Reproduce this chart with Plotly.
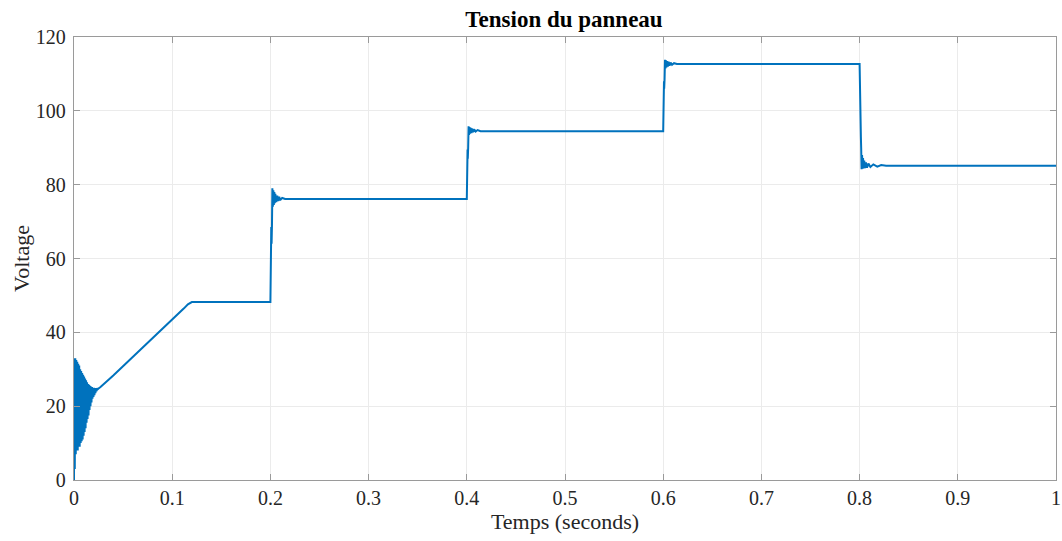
import numpy as np
import plotly.graph_objects as go

# --- Data (time in s, voltage in V) ---
t_start = [0, 0.0003, 0.0008, 0.0013, 0.0018, 0.0023, 0.0028, 0.0033, 0.0038, 0.0043,
           0.0048, 0.0053, 0.0058, 0.0063, 0.0068, 0.0073, 0.0078, 0.0083, 0.0088, 0.0093,
           0.0098, 0.0103, 0.0108, 0.0113, 0.0118, 0.0123, 0.0128, 0.0133, 0.0138, 0.0143,
           0.0148, 0.0153, 0.0158, 0.0163, 0.0168, 0.0173, 0.0178, 0.0183, 0.0188, 0.0193,
           0.0198, 0.0203, 0.0208, 0.0213, 0.0218, 0.0223, 0.0228, 0.0233, 0.0238, 0.025, 0.027]
v_start = [0, 33, 3, 33, 7, 32.5, 8, 32, 8, 31.5,
           9, 31, 9, 30, 10, 29.5, 10.5, 29, 11, 28.5,
           12, 28, 13, 27.5, 14, 27, 15.5, 26.5, 16.5, 26,
           17.5, 25.8, 19, 25.5, 20, 25.3, 21, 25.2, 22, 25,
           22.5, 25, 23, 24.9, 23.5, 24.9, 24, 24.9, 24.5, 24.8, 25.2]

t_ramp = [0.04, 0.06, 0.08, 0.1, 0.112, 0.116, 0.12, 0.2]
v_ramp = [28.3, 33.3, 38.4, 43.5, 46.5, 47.6, 48.2, 48.2]

t_step1 = [0.2005, 0.2009, 0.2012, 0.2016, 0.202, 0.2025, 0.203, 0.2035, 0.204, 0.2045,
           0.205, 0.206, 0.207, 0.208, 0.209, 0.21, 0.212, 0.215, 0.4]
v_step1 = [63, 68.5, 64, 69, 79, 74, 78.5, 74.5, 78, 75,
           77.5, 75.3, 77, 75.6, 76.7, 75.8, 76.4, 76.1, 76.1]

t_step2 = [0.4004, 0.4008, 0.401, 0.4014, 0.4018, 0.4023, 0.4028, 0.4033, 0.404, 0.4047,
           0.4055, 0.4065, 0.4075, 0.409, 0.411, 0.414, 0.6]
v_step2 = [86, 89.5, 87, 90, 95.8, 93.5, 95.6, 93.8, 95.4, 94,
           95.2, 94.2, 95, 94.4, 94.8, 94.5, 94.5]

t_step3 = [0.6004, 0.6008, 0.601, 0.6014, 0.6018, 0.6023, 0.6028, 0.6033, 0.604, 0.6047,
           0.6055, 0.6065, 0.6075, 0.609, 0.611, 0.614, 0.8]
v_step3 = [105.5, 108, 106, 108.5, 113.8, 111.5, 113.7, 111.8, 113.5, 112,
           113.3, 112.2, 113.1, 112.5, 112.9, 112.7, 112.7]

t_step4 = [0.8004, 0.8008, 0.801, 0.8013, 0.8016, 0.802, 0.8025, 0.803, 0.8035, 0.804,
           0.8047, 0.8055, 0.8065, 0.8075, 0.809, 0.811, 0.814, 0.818, 0.822, 0.827, 1.0]
v_step4 = [98.5, 93.5, 97, 93, 90, 84.2, 88, 84.3, 87.2, 84.4,
           86.5, 84.5, 86, 84.6, 85.7, 84.8, 85.5, 84.9, 85.3, 85.1, 85.1]

x_ticks = [0, 0.1, 0.2, 0.3, 0.4, 0.5, 0.6, 0.7, 0.8, 0.9, 1]
y_ticks = [0, 20, 40, 60, 80, 100, 120]

t = t_start + t_ramp + t_step1 + t_step2 + t_step3 + t_step4
v = v_start + v_ramp + v_step1 + v_step2 + v_step3 + v_step4

FONT = "Liberation Serif"
AX = "#9a9a9a"

W, H = 1062, 541

fig = go.Figure()
fig.add_trace(go.Scatter(x=t, y=v, mode="lines",
                         line=dict(color="#0072BD", width=2),
                         showlegend=False, hoverinfo="skip"))

fig.update_layout(
    width=W, height=H,
    margin=dict(l=73.5, r=5.5, t=37, b=61, autoexpand=False),
    paper_bgcolor="white", plot_bgcolor="white",
    font=dict(family=FONT, color="#262626", size=20),
    title=dict(text="<b>Tension du panneau</b>", x=564 / W, xanchor="center",
               y=1 - 19 / H, yanchor="middle", yref="container",
               font=dict(family=FONT, size=23, color="#000000"), automargin=False),
)
fig.update_xaxes(
    range=[0, 1], tickvals=x_ticks, ticktext=[f"{x:g}" for x in x_ticks],
    showgrid=True, gridcolor="#ebebeb", gridwidth=1,
    showline=True, linecolor=AX, linewidth=1.3, mirror="allticks",
    ticks="inside", ticklen=6, tickcolor=AX, tickwidth=1,
    zeroline=False, automargin=False,
    title=dict(text="Temps (seconds)", font=dict(family=FONT, size=22, color="#262626"), standoff=0),
    tickfont=dict(family=FONT, size=20, color="#262626"),
)
fig.update_yaxes(
    range=[0, 120], tickvals=y_ticks,
    showgrid=True, gridcolor="#ebebeb", gridwidth=1,
    showline=True, linecolor=AX, linewidth=1.3, mirror="allticks",
    ticks="inside", ticklen=6, tickcolor=AX, tickwidth=1,
    zeroline=False, automargin=False, ticklabelstandoff=3,
    title=dict(text="Voltage", font=dict(family=FONT, size=22, color="#262626"), standoff=0),
    tickfont=dict(family=FONT, size=20, color="#262626"),
)

# Remove the browser's default 8px body margin so the figure fills the window exactly.
fig.write_html("out.html",
               config={"displayModeBar": False, "staticPlot": True},
               post_script="document.body.style.margin='0px';document.body.style.overflow='hidden';")
